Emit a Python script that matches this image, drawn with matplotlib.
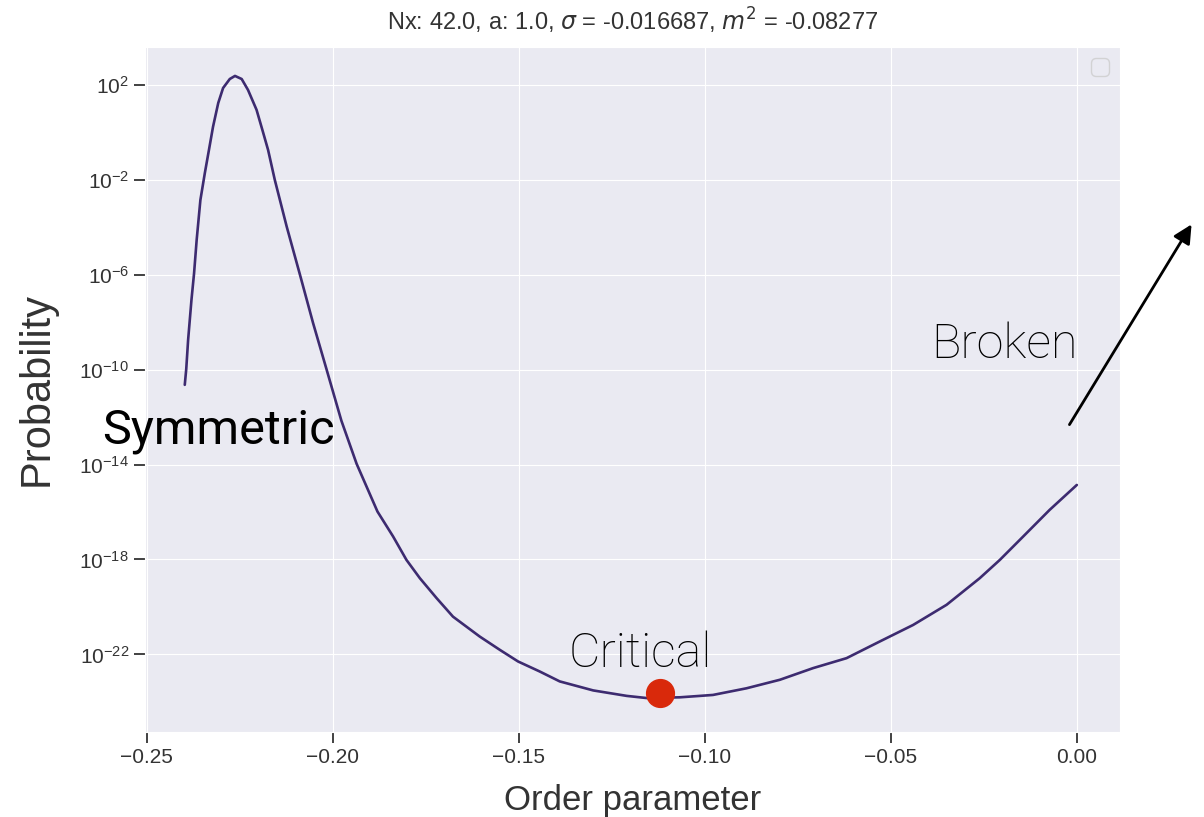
import numpy as np
import matplotlib
matplotlib.use("Agg")
import matplotlib.pyplot as plt
import seaborn as sns

# order parameter and log10 of the probability along the curve
order_param = [-0.2398, -0.2394, -0.2389, -0.2380, -0.2373, -0.2366, -0.2356,
               -0.2344, -0.2333, -0.2322, -0.2308, -0.2295, -0.2277, -0.2263,
               -0.2245, -0.2228, -0.2205, -0.2188, -0.2174, -0.2156, -0.2124,
               -0.2089, -0.2053, -0.2017, -0.1977, -0.1936, -0.1880, -0.1838,
               -0.1802, -0.1766, -0.1721, -0.1677, -0.1605, -0.1551, -0.1502,
               -0.1444, -0.1390, -0.1300, -0.1210, -0.1157, -0.1067, -0.1013,
               -0.0978, -0.0888, -0.0798, -0.0709, -0.0619, -0.0530, -0.0440,
               -0.0350, -0.0261, -0.0207, -0.0144, -0.0073, 0.0]
log_prob = [-10.64, -9.97, -8.75, -7.06, -5.94, -4.53, -2.85,
            -1.71, -0.74, 0.24, 1.24, 1.87, 2.25, 2.38,
            2.25, 1.79, 0.95, 0.03, -0.74, -2.00, -3.97,
            -5.96, -8.04, -9.98, -12.15, -13.97, -15.98, -17.03,
            -18.02, -18.79, -19.63, -20.41, -21.25, -21.81, -22.30,
            -22.72, -23.14, -23.52, -23.75, -23.84, -23.81, -23.75,
            -23.71, -23.43, -23.07, -22.58, -22.16, -21.46, -20.76,
            -19.91, -18.79, -18.02, -17.03, -15.91, -14.86]

critical_x = -0.1121
critical_log_prob = -23.62

Nx, a, sigma, m2 = 42.0, 1.0, -0.016687, -0.08277

sns.set_style("darkgrid")
plt.rcParams['font.family'] = ['Liberation Sans', 'DejaVu Sans']

fig = plt.figure(figsize=(12.04, 8.17), dpi=100)
ax = fig.add_axes([0.1204, 0.1041, 0.8098, 0.8384])

prob = 10.0 ** np.array(log_prob)
ax.semilogy(order_param, prob, color='#3d2b70', lw=1.9)
ax.plot(critical_x, 10.0 ** critical_log_prob, 'o', color='#d9290b',
        markersize=20, zorder=5)

ax.set_xlim(-0.2505, 0.0116)
ax.set_ylim(10 ** -25.27, 10 ** 3.6)
ax.set_yticks([10.0 ** e for e in range(2, -23, -4)])
ax.yaxis.set_minor_locator(matplotlib.ticker.NullLocator())
ax.set_xticks([-0.25, -0.20, -0.15, -0.10, -0.05, 0.0])

ax.tick_params(axis='both', which='major', direction='out', length=8,
               width=1.3, color='#333333', labelcolor='#333333',
               labelsize=15, left=True, bottom=True)
ax.set_xlabel('Order parameter', fontsize=25, color='#333333', labelpad=12)
ax.set_ylabel('Probability', fontsize=30, color='#333333')
ax.yaxis.set_label_coords(-0.091, 0.5)
ax.set_title(r'Nx: %.1f, a: %.1f, $\sigma$ = %.6f, $m^2$ = %.5f' % (Nx, a, sigma, m2),
             fontsize=17, color='#333333', pad=12)

# empty legend box in the corner
ax.legend(handles=[], loc='upper right', frameon=True, fontsize=16)

# phase labels
label_font = ['Roboto', 'DejaVu Sans']
fig.text(102 / 1204, 1 - 443 / 817, 'Symmetric', fontsize=35, family=label_font,
         color='black', va='baseline')
fig.text(931 / 1204, 1 - 358 / 817, 'Broken', fontsize=35, family=label_font,
         fontweight='light', color='black', va='baseline')
fig.text(569 / 1204, 1 - 667 / 817, 'Critical', fontsize=35, family=label_font,
         fontweight='light', color='black', va='baseline')

ax.annotate('', xy=(1193 / 1204, 1 - 222 / 817), xycoords='figure fraction',
            xytext=(1068 / 1204, 1 - 427 / 817), textcoords='figure fraction',
            arrowprops=dict(arrowstyle='-|>', color='black', lw=2,
                            mutation_scale=28))

fig.savefig('out.png', dpi=100)
